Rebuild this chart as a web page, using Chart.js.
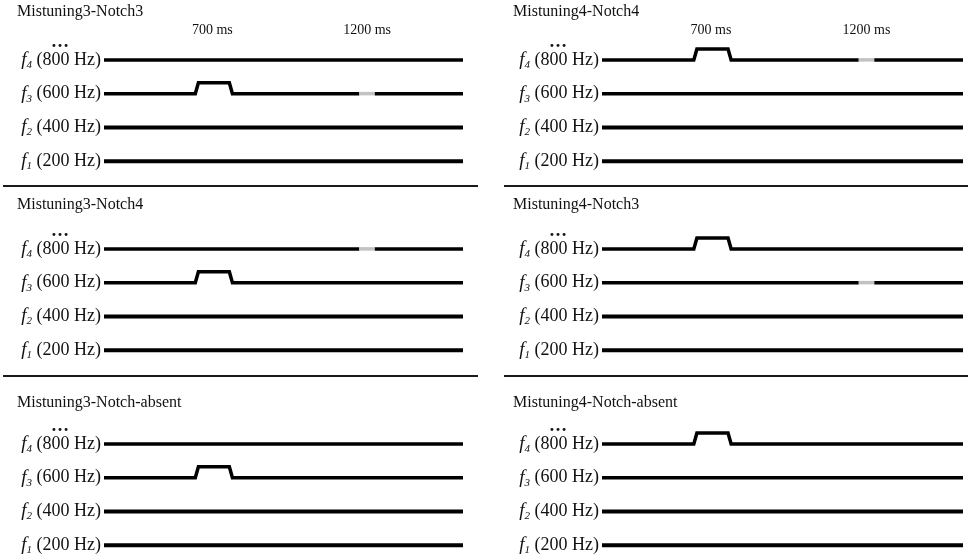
<!DOCTYPE html>
<html>
<head>
<meta charset="utf-8">
<script src="https://cdn.jsdelivr.net/npm/chart.js@4.4.1/dist/chart.umd.min.js"></script>
<style>
  html, body { margin: 0; padding: 0; background: #fff; overflow: hidden; width: 968px; height: 557px; }
  .panel { position: absolute; }
  .rule { position: absolute; height: 1.5px; background: #1a1a1a; }
</style>
</head>
<body>
<script>
// Chart data
const panelTitles = [
    'Mistuning3-Notch3', 'Mistuning4-Notch4',
    'Mistuning3-Notch4', 'Mistuning4-Notch3',
    'Mistuning3-Notch-absent', 'Mistuning4-Notch-absent'
];
const mistunedHarmonic = [3, 4, 3, 4, 3, 4];
const notchedHarmonic = [3, 4, 4, 3, null, null];

const harmonicHz = [200, 400, 600, 800];          // f1..f4
const toneTimes = [350, 1510];                    // ms, start / end of each tone
const bumpTimes = [645, 655, 755, 765];           // ms, mistuning ramp up / down
const bumpShift = [0, 65, 65, 0];                 // Hz, frequency raise of mistuned harmonic
const notchTimes = [1175, 1225];                  // ms, notch on / off
const tickTimes = [700, 1200];
const tickLabels = ['700 ms', '1200 ms'];

// Layout
const rowTops = [0, 189, 384];
const titleYs = [12, 16, 19];
const colLeft = [0, 498];
const colWidth = [484, 470];
const colPadRight = [21, 5];

function buildPoints(hz, mistuned, notched) {
    const pts = [{ x: toneTimes[0], y: hz }];
    const extra = [];
    if (mistuned) bumpTimes.forEach((t, i) => extra.push({ x: t, y: hz + bumpShift[i] }));
    if (notched) notchTimes.forEach(t => extra.push({ x: t, y: hz }));
    extra.sort((a, b) => a.x - b.x).forEach(p => pts.push(p));
    pts.push({ x: toneTimes[1], y: hz });
    return pts;
}

const panelText = {
    id: 'panelText',
    afterDraw(chart, args, opts) {
        const { ctx, chartArea, scales } = chart;
        ctx.save();
        ctx.fillStyle = '#111';

        // title
        ctx.font = '16px "Liberation Serif"';
        ctx.textAlign = 'left';
        ctx.textBaseline = 'middle';
        ctx.fillText(opts.title, opts.titleX, opts.titleY);

        // time markers (top row only)
        if (opts.showTicks) {
            ctx.font = '14px "Liberation Serif"';
            ctx.textAlign = 'center';
            tickTimes.forEach((t, i) => {
                ctx.fillText(tickLabels[i], scales.x.getPixelForValue(t), 30);
            });
        }

        // harmonic labels
        harmonicHz.forEach((hz, i) => {
            const y = scales.y.getPixelForValue(hz);
            let x = chartArea.left - 3;
            ctx.textAlign = 'right';
            ctx.textBaseline = 'middle';
            const rest = ' (' + hz + ' Hz)';
            ctx.font = '18px "Liberation Serif"';
            ctx.fillText(rest, x, y);
            x -= ctx.measureText(rest).width;
            const sub = String(i + 1);
            ctx.font = 'italic 11px "Liberation Serif"';
            ctx.fillText(sub, x, y + 5);
            x -= ctx.measureText(sub).width;
            ctx.font = 'italic 19px "Liberation Serif"';
            ctx.fillText('f', x, y);
        });

        // dots above f4
        const y4 = scales.y.getPixelForValue(harmonicHz[3]);
        ctx.font = 'bold 18px "Liberation Serif"';
        ctx.textAlign = 'center';
        ctx.textBaseline = 'alphabetic';
        ctx.fillText('\u2026', chartArea.left - 44, y4 - 12.5);
        ctx.restore();
    }
};

panelTitles.forEach((title, p) => {
    const row = Math.floor(p / 2);
    const col = p % 2;

    const div = document.createElement('div');
    div.className = 'panel';
    div.style.left = colLeft[col] + 'px';
    div.style.top = rowTops[row] + 'px';
    const canvas = document.createElement('canvas');
    canvas.width = colWidth[col];
    canvas.height = 180;
    div.appendChild(canvas);
    document.body.appendChild(div);

    const datasets = harmonicHz.map((hz, i) => {
        const h = i + 1;
        const notched = notchedHarmonic[p] === h;
        return {
            data: buildPoints(hz, mistunedHarmonic[p] === h, notched),
            borderColor: '#000',
            borderWidth: h >= 3 ? 3.5 : 4,
            borderJoinStyle: 'miter',
            borderCapStyle: 'butt',
            pointRadius: 0,
            tension: 0,
            segment: {
                borderColor: c => (notched && c.p0.parsed.x >= notchTimes[0] && c.p1.parsed.x <= notchTimes[1]) ? '#c2c2c2' : undefined
            }
        };
    });

    new Chart(canvas.getContext('2d'), {
        type: 'line',
        data: { datasets },
        options: {
            responsive: false,
            animation: false,
            layout: { padding: { left: 104, right: colPadRight[col], top: 43, bottom: 2 } },
            scales: {
                x: { type: 'linear', min: toneTimes[0], max: toneTimes[1], display: false },
                y: { min: 100, max: 900, display: false }
            },
            plugins: {
                legend: { display: false },
                tooltip: { enabled: false },
                panelText: { title, titleX: col === 0 ? 17 : 15, titleY: titleYs[row], showTicks: row === 0 }
            }
        },
        plugins: [panelText]
    });
});

// separators between rows
[185, 375].forEach(y => {
    [[3, 475], [504, 464]].forEach(([x, w]) => {
        const r = document.createElement('div');
        r.className = 'rule';
        r.style.left = x + 'px';
        r.style.top = y + 'px';
        r.style.width = w + 'px';
        document.body.appendChild(r);
    });
});
</script>
</body>
</html>
